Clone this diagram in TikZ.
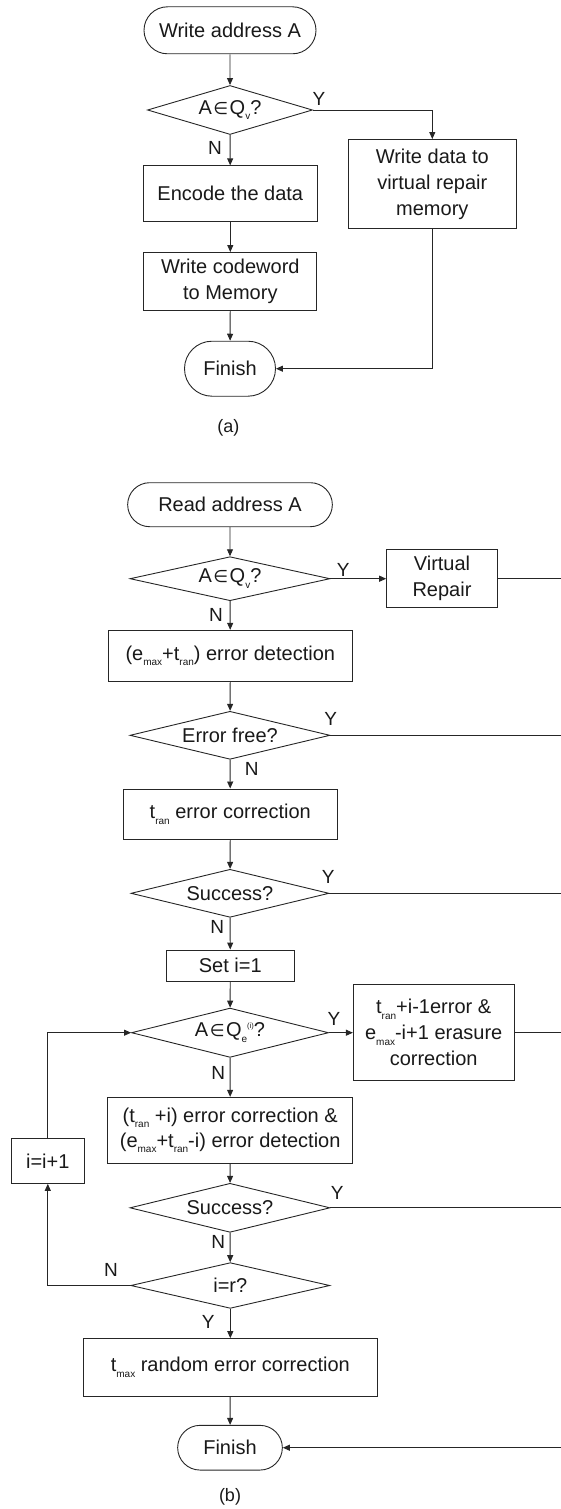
\documentclass[tikz,border=0pt]{standalone}
\usepackage{fontspec}
\setmainfont{Liberation Sans}
\newfontfamily\symfont{DejaVu Sans}
\usetikzlibrary{shapes.geometric,shapes.misc,arrows.meta}
% small lowered / raised indices
\newcommand\dn[1]{\raisebox{-5.5pt}{\fontsize{10}{10}\selectfont #1}}
\newcommand\up[1]{\raisebox{8pt}{\fontsize{7.5}{7.5}\selectfont #1}}
\newcommand\elem{\kern1.5pt{\symfont\fontsize{17}{17}\selectfont ∈}\kern1.5pt}
\tikzset{
  base/.style={font=\fontsize{20}{26}\selectfont, text=black!90},
  term/.style={base, draw, rounded rectangle, inner sep=1pt},
  procbox/.style={base, draw, rectangle, align=center, inner sep=1pt},
  decide/.style={base, draw, diamond, aspect=4, inner sep=0pt},
  lbl/.style={font=\fontsize{19}{19}\selectfont, text=black!90, inner sep=0pt},
  captext/.style={font=\fontsize{18}{18}\selectfont, text=black!90, inner sep=0pt},
  flow/.style={line width=0.9pt, draw=black!85},
  arr/.style={flow, -{Triangle[length=7pt,width=6pt]}}
}
\begin{document}
\begin{tikzpicture}[x=1pt,y=-1pt,every node/.append style={line width=0.9pt, draw=black!85}]
\useasboundingbox (0,0) rectangle (561,1509);
\coordinate (rim) at (561,0);

% ---------- (a) write flow ----------
\node[term, minimum width=174pt, minimum height=47pt] (wa) at (230,30.3) {Write address A};
\node[decide, minimum width=165pt, minimum height=49pt] (da) at (230,110) {A\elem Q\dn{v}?};
\node[procbox, minimum width=168pt, minimum height=89pt] (wv) at (432.3,184) {Write data to\\virtual repair\\memory};
\node[procbox, minimum width=174pt, minimum height=56pt] (enc) at (230.3,193.8) {Encode the data};
\node[procbox, minimum width=173pt, minimum height=58pt] (wc) at (230.3,281.5) {Write codeword\\to Memory};
\node[term, minimum width=93pt, minimum height=55pt] (fa) at (230,368.7) {Finish};
\node[captext, draw=none] (capa) at (228.3,428.3) {(a)};

\node[lbl, draw=none] (ya) at (319,99) {Y};
\node[lbl, draw=none] (na) at (215,147.7) {N};

\draw[arr] (wa) -- (da);
\draw[arr] (da.east) -| (wv.north);
\draw[arr] (da) -- (enc);
\draw[arr] (enc) -- (wc);
\draw[arr] (wc) -- (fa);
\draw[arr] (wv.south) |- (fa.east);

% ---------- (b) read flow ----------
\node[term, minimum width=206.7pt, minimum height=44pt] (ra) at (230,504.7) {Read address A};
\node[decide, minimum width=200pt, minimum height=44pt] (dv) at (230,578.7) {A\elem Q\dn{v}?};
\node[procbox, minimum width=110.7pt, minimum height=58.4pt] (vr) at (442,578.7) {Virtual\\Repair};
\node[procbox, minimum width=244pt, minimum height=51pt] (det) at (230.3,655.8) {(e\dn{max}+t\dn{ran}) error detection};
\node[decide, minimum width=200pt, minimum height=48pt] (df) at (230,735.3) {Error free?};
\node[procbox, minimum width=214pt, minimum height=50.7pt] (tc) at (230.3,814.3) {t\dn{ran} error correction};
\node[decide, minimum width=198pt, minimum height=48pt] (ds1) at (230,893.3) {Success?};
\node[procbox, minimum width=127.3pt, minimum height=31pt] (set) at (230.3,965.5) {Set i=1};
\node[decide, minimum width=197pt, minimum height=49.3pt] (dq) at (230,1032.7) {A\elem Q\dn{e}\up{(i)}?};
\node[procbox, minimum width=160.7pt, minimum height=96pt] (er) at (433.7,1032.7) {t\dn{ran}+i-1error \&\\e\dn{max}-i+1 erasure\\correction};
\node[procbox, minimum width=245pt, minimum height=66pt, font=\fontsize{20}{25}\selectfont] (cd) at (230.2,1130.3) {(t\dn{ran} +i) error correction \&\\(e\dn{max}+t\dn{ran}-i) error detection};
\node[procbox, minimum width=73.7pt, minimum height=44.7pt] (ii) at (47.8,1161) {i=i+1};
\node[decide, minimum width=200pt, minimum height=49pt] (ds2) at (230,1207.8) {Success?};
\node[decide, minimum width=199pt, minimum height=45.7pt] (dr) at (230.3,1285.5) {i=r?};
\node[procbox, minimum width=294pt, minimum height=57.3pt] (tm) at (230.3,1367.3) {t\dn{max} random error correction};
\node[term, minimum width=106.7pt, minimum height=44.7pt] (fb) at (230,1447.7) {Finish};
\node[captext, draw=none] (capb) at (230,1496.7) {(b)};

\node[lbl, draw=none] (yb1) at (343.3,570) {Y};
\node[lbl, draw=none] (nb1) at (216,615) {N};
\node[lbl, draw=none] (yb2) at (330.7,719.3) {Y};
\node[lbl, draw=none] (nb2) at (251.7,769.3) {N};
\node[lbl, draw=none] (yb3) at (328.3,876.7) {Y};
\node[lbl, draw=none] (nb3) at (217.3,926.7) {N};
\node[lbl, draw=none] (yb4) at (334,1019.3) {Y};
\node[lbl, draw=none] (nb4) at (218.3,1072.7) {N};
\node[lbl, draw=none] (yb5) at (337.3,1192.7) {Y};
\node[lbl, draw=none] (nb5) at (218.3,1242.3) {N};
\node[lbl, draw=none] (nb6) at (111,1270) {N};
\node[lbl, draw=none] (yb6) at (208.3,1321.7) {Y};

\draw[arr] (ra) -- (dv);
\draw[arr] (dv) -- (vr);
\draw[arr] (dv) -- (det);
\draw[arr] (det) -- (df);
\draw[arr] (df) -- (tc);
\draw[arr] (tc) -- (ds1);
\draw[arr] (ds1) -- (set);
\draw[arr] (set) -- (dq);
\draw[arr] (dq) -- (er);
\draw[arr] (dq) -- (cd);
\draw[arr] (cd) -- (ds2);
\draw[arr] (ds2) -- (dr);
\draw[arr] (dr) -- (tm);
\draw[arr] (tm) -- (fb);
\draw[arr] (dr.west) -| (ii.south);
\draw[arr] (ii.north) |- (dq.west);

% exits running off to the right margin
\draw[flow] (vr.east) -- (vr.east -| rim);
\draw[flow] (df.east) -- (df.east -| rim);
\draw[flow] (ds1.east) -- (ds1.east -| rim);
\draw[flow] (er.east) -- (er.east -| rim);
\draw[flow] (ds2.east) -- (ds2.east -| rim);
\draw[arr] (fb.east -| rim) -- (fb.east);
\end{tikzpicture}
\end{document}
